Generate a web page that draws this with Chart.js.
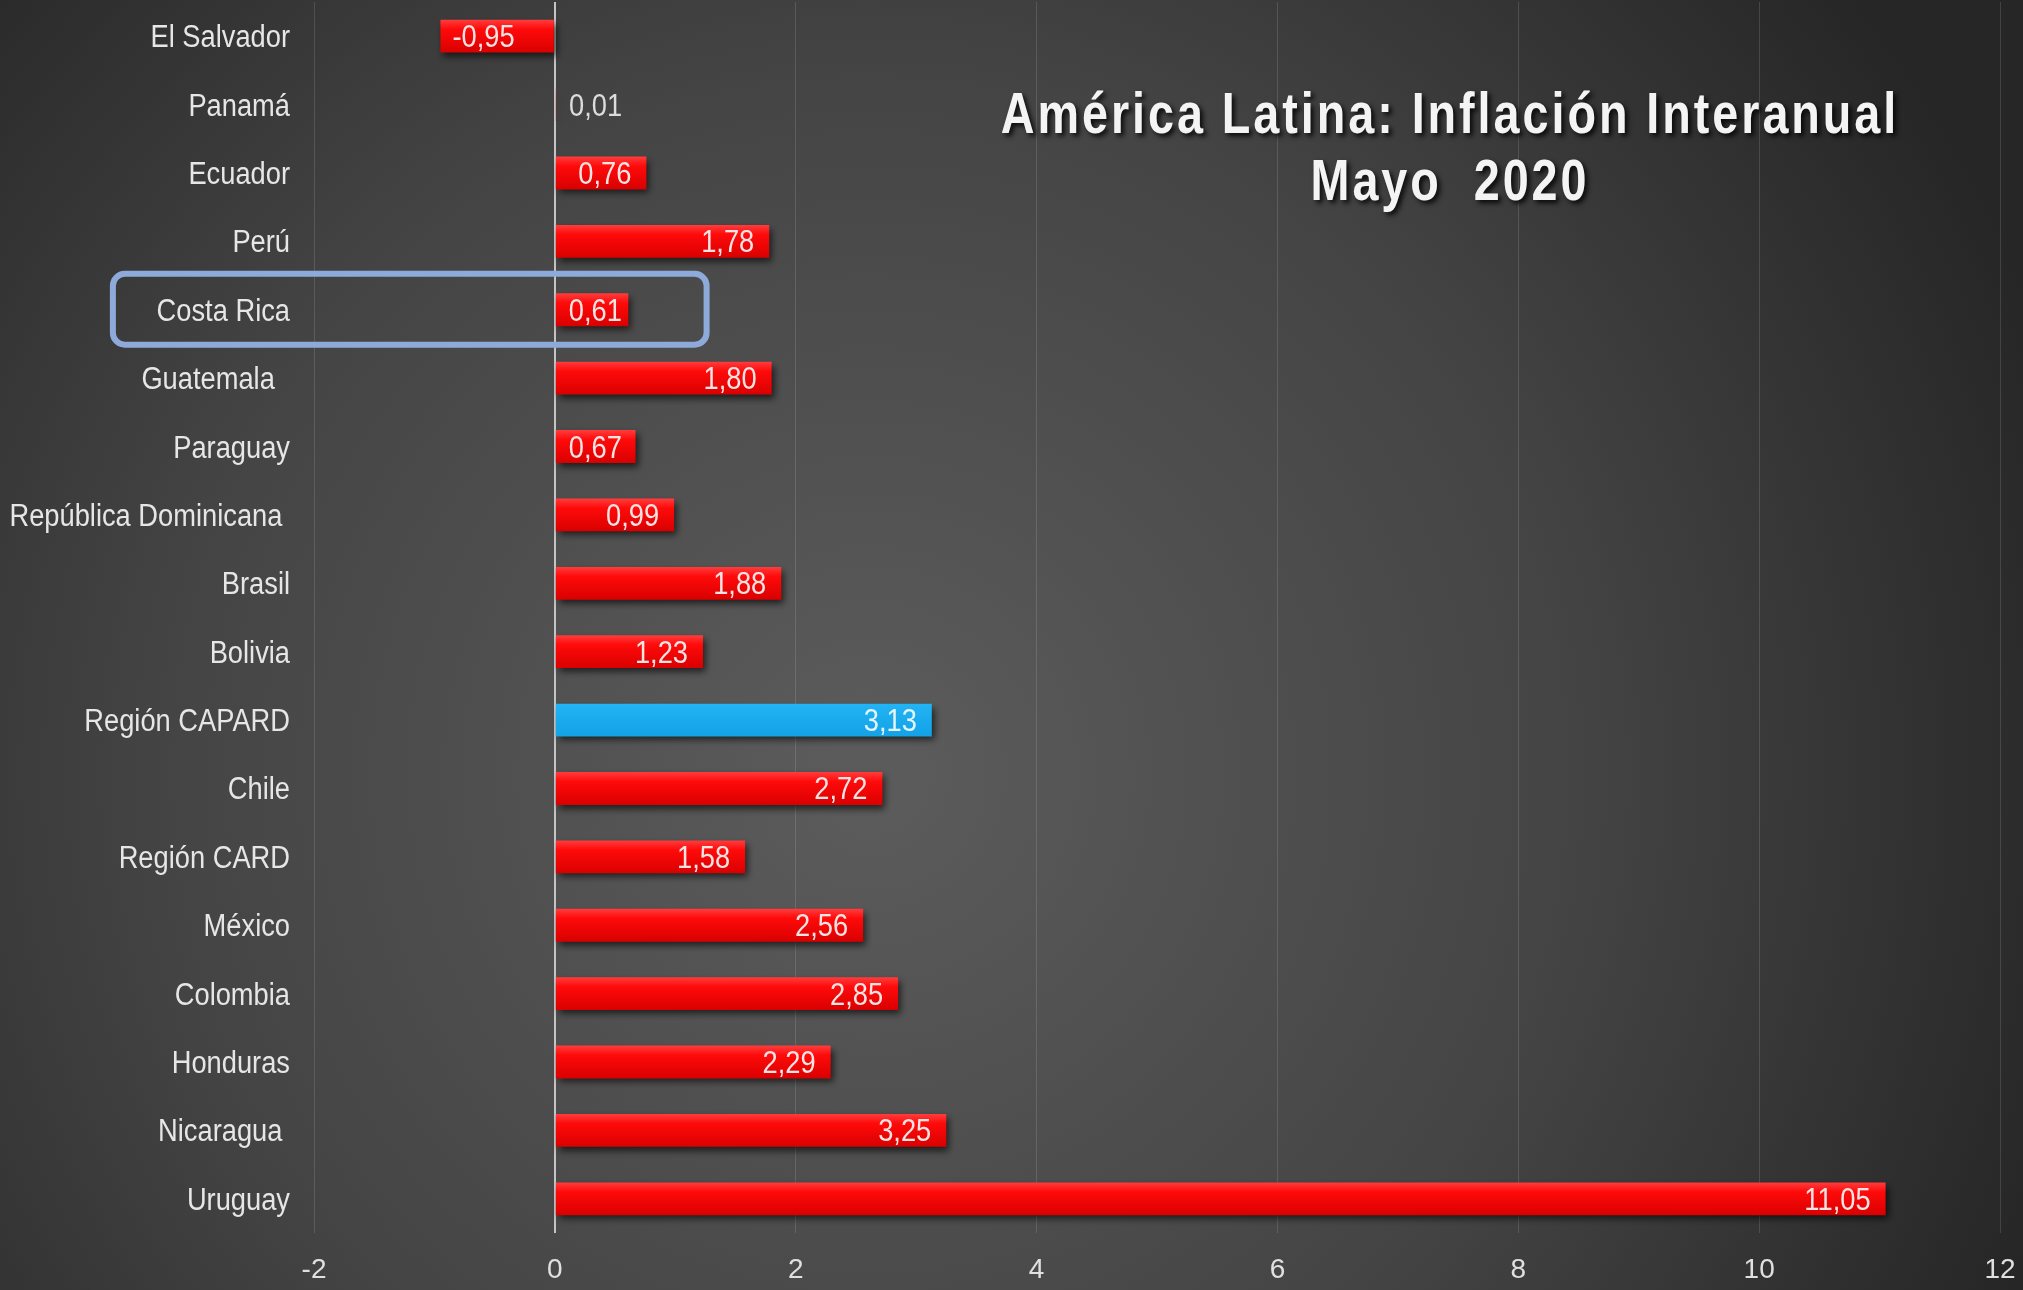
<!DOCTYPE html>
<html>
<head>
<meta charset="utf-8">
<script src="https://cdn.jsdelivr.net/npm/chart.js@4.4.0/dist/chart.umd.min.js"></script>
<style>
  html, body { margin: 0; padding: 0; background: #2b2b2b; }
  #wrap { width: 2023px; height: 1290px; }
</style>
</head>
<body>
<div id="wrap"><canvas id="chart" width="2023" height="1290"></canvas></div>
<script>
const countries = [
    'El Salvador', 'Panamá', 'Ecuador', 'Perú', 'Costa Rica', 'Guatemala  ',
    'Paraguay', 'República Dominicana ', 'Brasil', 'Bolivia', 'Región CAPARD',
    'Chile', 'Región CARD', 'México', 'Colombia', 'Honduras', 'Nicaragua ', 'Uruguay'
];
const inflation = [
    -0.95, 0.01, 0.76, 1.78, 0.61, 1.80,
    0.67, 0.99, 1.88, 1.23, 3.13,
    2.72, 1.58, 2.56, 2.85, 2.29, 3.25, 11.05
];
const xMin = -2;
const xMax = 12;
const xStep = 2;
const titleLines = ['América Latina: Inflación Interanual', 'Mayo  2020'];
const regionName = 'Región CAPARD';
const boxedName = 'Costa Rica';

const FONT = "'Liberation Sans', Arial, sans-serif";
const SQUEEZE = 0.88;   // narrow look for the labels

function fmt(v) {
    return v.toFixed(2).replace('.', ',');
}

// text squeezed horizontally around its anchor
function narrowText(ctx, text, x, y, align, squeeze) {
    ctx.save();
    ctx.translate(x, y);
    ctx.scale(squeeze, 1);
    ctx.textAlign = align;
    ctx.fillText(text, 0, 0);
    ctx.restore();
}

// dark backdrop, lighter towards the middle
const backdrop = {
    id: 'backdrop',
    beforeDraw(chart) {
        const { ctx, width, height } = chart;
        const cx = width * 0.43, cy = height * 0.6;
        const g = ctx.createRadialGradient(cx, cy, 40, cx, cy, width * 0.62);
        g.addColorStop(0, '#5b5b5b');
        g.addColorStop(0.55, '#444444');
        g.addColorStop(1, '#262626');
        ctx.save();
        ctx.fillStyle = g;
        ctx.fillRect(0, 0, width, height);
        ctx.restore();
    }
};

// soft drop shadow under the bars
const barShadow = {
    id: 'barShadow',
    beforeDatasetsDraw(chart) {
        const ctx = chart.ctx;
        ctx.save();
        ctx.shadowColor = 'rgba(0, 0, 0, 0.65)';
        ctx.shadowBlur = 7;
        ctx.shadowOffsetX = 3;
        ctx.shadowOffsetY = 4;
    },
    afterDatasetsDraw(chart) {
        chart.ctx.restore();
    }
};

// country names on the left and the value at the end of each bar
const textLabels = {
    id: 'textLabels',
    afterDatasetsDraw(chart) {
        const ctx = chart.ctx;
        const ys = chart.scales.y;
        const meta = chart.getDatasetMeta(0);
        ctx.save();
        ctx.font = '31px ' + FONT;
        ctx.textBaseline = 'alphabetic';

        ctx.fillStyle = '#e6e6e6';
        countries.forEach((name, i) => {
            narrowText(ctx, name, ys.right - 24, ys.getPixelForValue(i) + 11, 'right', SQUEEZE);
        });

        meta.data.forEach((bar, i) => {
            const v = inflation[i];
            const text = fmt(v);
            const w = ctx.measureText(text).width * SQUEEZE;
            const len = Math.abs(bar.x - bar.base);
            const y = bar.y + 11;
            ctx.fillStyle = countries[i] === regionName ? '#e6f4ff' : '#f6e4e4';
            if (len < 20) {
                ctx.fillStyle = '#dcdcdc';
                narrowText(ctx, text, Math.max(bar.x, bar.base) + 13, y, 'left', SQUEEZE);
            } else if (v < 0) {
                narrowText(ctx, text, bar.x + 12, y, 'left', SQUEEZE);
            } else {
                // inside the bar end, but never past the bar start
                const x0 = Math.max(bar.x - 15 - w, bar.base + 13);
                narrowText(ctx, text, x0, y, 'left', SQUEEZE);
            }
        });
        ctx.restore();
    }
};

// chart title and the frame around one country
const overlay = {
    id: 'overlay',
    afterDraw(chart) {
        const ctx = chart.ctx;
        const xs = chart.scales.x, ys = chart.scales.y;

        const idx = countries.indexOf(boxedName);
        const cy = ys.getPixelForValue(idx);
        const left = xs.getPixelForValue(-3.67);
        const right = xs.getPixelForValue(1.26);
        ctx.save();
        ctx.strokeStyle = '#8eaadb';
        ctx.lineWidth = 6;
        ctx.beginPath();
        ctx.roundRect(left, cy - 36, right - left, 71, 12);
        ctx.stroke();
        ctx.restore();

        ctx.save();
        ctx.font = 'bold 57px ' + FONT;
        ctx.letterSpacing = '3.6px';
        ctx.textBaseline = 'alphabetic';
        ctx.fillStyle = '#f4f4f4';
        ctx.shadowColor = 'rgba(0, 0, 0, 0.85)';
        ctx.shadowBlur = 5;
        ctx.shadowOffsetX = 3;
        ctx.shadowOffsetY = 3;
        narrowText(ctx, titleLines[0], 1450, 133, 'center', 0.82);
        narrowText(ctx, titleLines[1], 1450, 200, 'center', 0.82);
        ctx.restore();
    }
};

function barFill(context) {
    const chart = context.chart;
    const i = context.dataIndex;
    const blue = countries[i] === regionName;
    const ys = chart.scales.y;
    const y = ys ? ys.getPixelForValue(i) : NaN;
    if (!Number.isFinite(y)) return blue ? '#1aaaee' : '#f00000';
    const h = 34;
    const g = chart.ctx.createLinearGradient(0, y - h / 2, 0, y + h / 2);
    if (blue) {
        g.addColorStop(0, '#22b4f4');
        g.addColorStop(1, '#12a2e6');
    } else {
        g.addColorStop(0, '#ff4040');
        g.addColorStop(0.3, '#ff0a0a');
        g.addColorStop(1, '#d80000');
    }
    return g;
}

const ctx = document.getElementById('chart').getContext('2d');
new Chart(ctx, {
    type: 'bar',
    data: {
        labels: countries,
        datasets: [{
            data: inflation,
            backgroundColor: barFill,
            borderWidth: 0,
            categoryPercentage: 1,
            barPercentage: 0.48
        }]
    },
    options: {
        indexAxis: 'y',
        responsive: false,
        animation: false,
        layout: {
            padding: { top: 2, right: 23, bottom: 0, left: 0 }
        },
        plugins: {
            legend: { display: false },
            title: { display: false },
            tooltip: { enabled: false }
        },
        scales: {
            x: {
                min: xMin,
                max: xMax,
                afterFit(scale) {
                    scale.height = 57;
                    scale.paddingLeft = 0;
                    scale.paddingRight = 0;
                },
                ticks: {
                    stepSize: xStep,
                    color: '#e0e0e0',
                    padding: 20,
                    maxRotation: 0,
                    font: { family: FONT, size: 28 }
                },
                grid: {
                    drawTicks: false,
                    color: (c) => c.tick && c.tick.value === 0 ? '#c4c4c4' : 'rgba(255, 255, 255, 0.13)',
                    lineWidth: (c) => c.tick && c.tick.value === 0 ? 2 : 1
                },
                border: { display: false }
            },
            y: {
                afterFit(scale) {
                    scale.width = 314;
                },
                ticks: { display: false },
                grid: { display: false, drawTicks: false },
                border: { display: false }
            }
        }
    },
    plugins: [backdrop, barShadow, textLabels, overlay]
});
</script>
</body>
</html>
